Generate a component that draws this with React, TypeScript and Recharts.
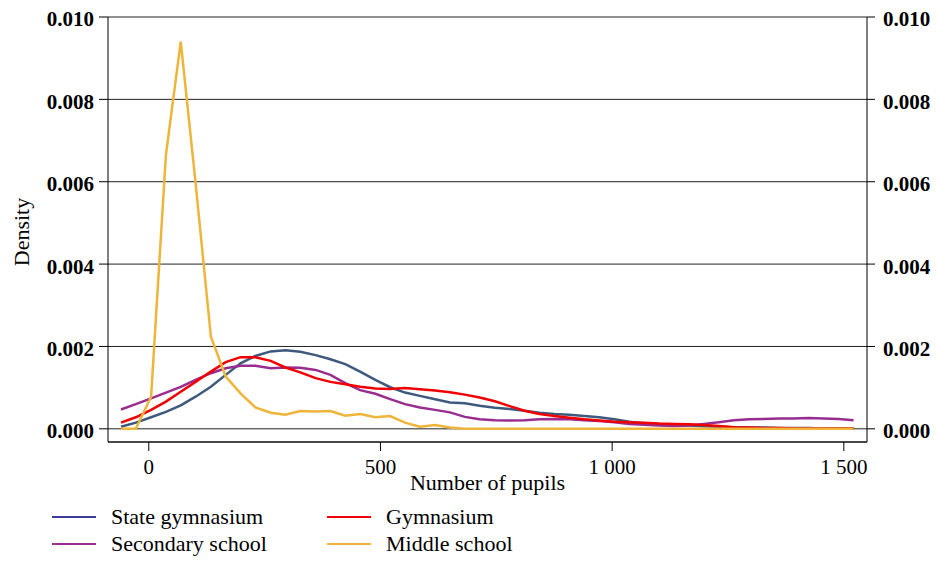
import { LineChart, Line, XAxis, YAxis, CartesianGrid, Label } from "recharts";

// KDE evaluation grid (number of pupils) and density estimates per school type
const pupils = [
  -60, -28, 5, 37, 69, 101, 134, 166, 198, 230,
  263, 295, 327, 360, 392, 424, 456, 489, 521, 553,
  585, 618, 650, 682, 714, 747, 779, 811, 843, 876,
  908, 940, 972, 1005, 1037, 1069, 1101, 1134, 1166, 1198,
  1230, 1263, 1295, 1327, 1360, 1392, 1424, 1456, 1489, 1521,
];

const stateGymnasium = [
  0.00005, 0.00015, 0.00028, 0.00041, 0.00057, 0.00078, 0.00102, 0.00131, 0.00159, 0.00177,
  0.00188, 0.00191, 0.00187, 0.00179, 0.00169, 0.00157, 0.00139, 0.00119, 0.00101, 0.00088,
  0.0008, 0.00072, 0.00064, 0.00062, 0.00056, 0.00051, 0.00048, 0.00044, 0.00039, 0.00036,
  0.00034, 0.00031, 0.00028, 0.00023, 0.00017, 0.00013, 0.00011, 0.00009, 0.00008, 0.00006,
  0.00005, 0.00004, 0.00003, 0.00003, 0.00002, 0.00002, 0.00002, 0.00001, 0.00001, 0.00001,
];

const gymnasium = [
  0.00015, 0.00028, 0.00046, 0.00066, 0.0009, 0.00114, 0.00139, 0.00162, 0.00174, 0.00174,
  0.00165, 0.00149, 0.00137, 0.00123, 0.00114, 0.00108, 0.00102, 0.00098, 0.00097, 0.00099,
  0.00096, 0.00093, 0.00089, 0.00083, 0.00076, 0.00067, 0.00055, 0.00044, 0.00036, 0.00031,
  0.00027, 0.00023, 0.0002, 0.00017, 0.00016, 0.00015, 0.00013, 0.00012, 0.00011, 0.00009,
  0.00007, 0.00004, 0.00003, 0.00002, 0.00002, 0.00001, 0.00001, 0.00001, 0.00001, 0.00001,
];

const secondarySchool = [
  0.00047, 0.0006, 0.00074, 0.00088, 0.00102, 0.00119, 0.00135, 0.00147, 0.00153, 0.00153,
  0.00147, 0.00149, 0.00148, 0.00143, 0.00131, 0.00111, 0.00094, 0.00085, 0.00072, 0.0006,
  0.00052, 0.00046, 0.0004, 0.00029, 0.00023, 0.00021, 0.0002, 0.00021, 0.00023, 0.00024,
  0.00023, 0.00021, 0.00019, 0.00016, 0.00012, 0.0001, 0.00008, 0.00007, 0.00008, 0.00012,
  0.00016, 0.00021, 0.00023, 0.00024, 0.00025, 0.00025, 0.00026, 0.00025, 0.00024, 0.00021,
];

const middleSchool = [
  0, 0, 0.00078, 0.00665, 0.0094, 0.00597, 0.00224, 0.00127, 0.00086, 0.00052,
  0.00039, 0.00034, 0.00043, 0.00042, 0.00043, 0.00032, 0.00036, 0.00028, 0.00031, 0.00015,
  0.00005, 0.00009, 0.00003, 0, 0, 0, 0, 0, 0, 0,
  0, 0, 0, 0, 0, 0, 0, 0, 0, 0,
  0, 0, 0, 0, 0, 0, 0, 0, 0, 0,
];

const xTicks = [0, 500, 1000, 1500];
const yTicks = [0, 0.002, 0.004, 0.006, 0.008, 0.01];

const FONT = '"Liberation Serif", "Times New Roman", serif';

const series = [
  { key: "state", name: "State gymnasium", color: "#3d5a7e", legendColor: "#3b3b98" },
  { key: "secondary", name: "Secondary school", color: "#982d8f", legendColor: "#9b2f93" },
  { key: "gym", name: "Gymnasium", color: "#f00000", legendColor: "#f00000" },
  { key: "middle", name: "Middle school", color: "#efb43a", legendColor: "#efb43a" },
];

const data = pupils.map((x, i) => ({
  x,
  state: stateGymnasium[i],
  gym: gymnasium[i],
  secondary: secondarySchool[i],
  middle: middleSchool[i],
}));

const fmtX = (v: number) => (v >= 1000 ? `${Math.floor(v / 1000)} ${String(v % 1000).padStart(3, "0")}` : String(v));
const fmtY = (v: number) => v.toFixed(3);

function LegendItem({ name, color, x, y }: { name: string; color: string; x: number; y: number }) {
  return (
    <div style={{ position: "absolute", left: x, top: y, height: 26, display: "flex", alignItems: "center" }}>
      <div style={{ width: 44, height: 2, background: color }} />
      <span style={{ marginLeft: 15, fontFamily: FONT, fontSize: 22, color: "#000", whiteSpace: "nowrap" }}>{name}</span>
    </div>
  );
}

export default function App() {
  const byKey = Object.fromEntries(series.map((s) => [s.key, s]));
  return (
    <div style={{ position: "absolute", left: 0, top: 0, width: 939, height: 561, background: "#fff" }}>
      <LineChart
        width={939}
        height={561}
        data={data}
        margin={{ top: 17, right: 0, bottom: 59, left: 0 }}
      >
        <CartesianGrid yAxisId="left" vertical={false} stroke="#222" strokeWidth={1} />
        <XAxis
          dataKey="x"
          type="number"
          domain={[-88, 1550]}
          ticks={xTicks}
          allowDataOverflow
          tickFormatter={fmtX}
          height={60}
          stroke="#000"
          tickSize={9}
          tickMargin={8}
          tick={{ fontSize: 21, fill: "#000", fontFamily: FONT }}
        >
          <Label
            value="Number of pupils"
            position="insideBottom"
            offset={12}
            style={{ fontSize: 22, fill: "#000", fontFamily: FONT }}
          />
        </XAxis>
        <YAxis
          yAxisId="left"
          domain={[-0.00032, 0.01]}
          ticks={yTicks}
          allowDataOverflow
          tickFormatter={fmtY}
          width={108}
          stroke="#000"
          tickSize={9}
          tickMargin={5}
          tick={{ fontSize: 21, fontWeight: "bold", fill: "#000", fontFamily: FONT, dy: 2 }}
        >
          <Label
            content={() => (
              <text
                transform="translate(29,232) rotate(-90)"
                textAnchor="middle"
                fontSize={22}
                fontFamily={FONT}
                fill="#000"
              >
                Density
              </text>
            )}
          />
        </YAxis>
        <YAxis
          yAxisId="right"
          orientation="right"
          domain={[-0.00032, 0.01]}
          ticks={yTicks}
          allowDataOverflow
          tickFormatter={fmtY}
          width={72}
          stroke="#000"
          tickSize={8}
          tickMargin={8}
          tick={{ fontSize: 21, fontWeight: "bold", fill: "#000", fontFamily: FONT, dy: 2 }}
        />
        {["state", "secondary", "gym", "middle"].map((k) => (
          <Line
            key={k}
            yAxisId="left"
            type="linear"
            dataKey={k}
            name={byKey[k].name}
            stroke={byKey[k].color}
            strokeWidth={2.5}
            dot={false}
            activeDot={false}
            isAnimationActive={false}
          />
        ))}
      </LineChart>
      <LegendItem name="State gymnasium" color={byKey.state.legendColor} x={52} y={504} />
      <LegendItem name="Gymnasium" color={byKey.gym.legendColor} x={327} y={504} />
      <LegendItem name="Secondary school" color={byKey.secondary.legendColor} x={52} y={531} />
      <LegendItem name="Middle school" color={byKey.middle.legendColor} x={327} y={531} />
    </div>
  );
}
